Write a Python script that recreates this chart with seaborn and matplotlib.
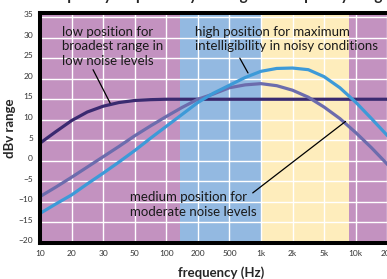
import matplotlib
matplotlib.use("Agg")
import matplotlib.pyplot as plt
import matplotlib.transforms as mtransforms
import seaborn as sns
import pandas as pd

# tick frequencies (evenly spaced on the chart)
freq_labels = ["10", "20", "30", "50", "100", "200", "500", "1k", "2k", "5k", "10k", "20k"]

# curve readings at half-tick steps (0 = 10 Hz, 11 = 20k)
x_steps = [0, 0.5, 1, 1.5, 2, 2.5, 3, 3.5, 4, 4.5, 5, 5.5,
           6, 6.5, 7, 7.5, 8, 8.5, 9, 9.5, 10, 10.5, 11, 11.5]
low_pos = [4.3, 7.1, 9.8, 11.9, 13.3, 14.2, 14.7, 14.9, 15.0, 15.0, 15.0, 15.0,
           15.0, 15.0, 15.0, 15.0, 15.0, 15.0, 15.0, 15.0, 15.0, 15.0, 15.0, 15.0]
medium_pos = [-8.7, -6.4, -4.0, -1.5, 1.0, 3.5, 6.1, 8.5, 10.8, 13.0, 15.0, 16.3,
              17.8, 18.5, 18.8, 18.3, 17.2, 15.5, 13.1, 10.3, 6.9, 3.2, -0.8, -5.0]
high_pos = [-12.8, -10.5, -8.3, -5.6, -3.0, -0.3, 2.5, 5.5, 8.4, 11.3, 14.2, 16.5,
            18.4, 20.3, 21.8, 22.5, 22.6, 22.2, 20.5, 17.8, 14.3, 10.3, 6.2, 2.0]

# background bands (in tick-index units) and their colours
band_edges = [0, 4.43, 7.02, 9.78, 12]
band_colors = ["#C392C0", "#93B9E1", "#FEEDBC", "#C392C0"]

n = len(x_steps)
df = pd.DataFrame({
    "x": x_steps * 3,
    "dBv": low_pos + medium_pos + high_pos,
    "setting": ["low"] * n + ["medium"] * n + ["high"] * n,
})
palette = {"low": "#3A2A70", "medium": "#6C6CAD", "high": "#3D9AD8"}

sns.set_style("white")
plt.rcParams["font.family"] = ["Lato", "DejaVu Sans"]

fig = plt.figure(figsize=(3.87, 2.79), dpi=100)
ax = fig.add_axes([40 / 387, 36 / 279, 363 / 387, 230 / 279])

for i, c in enumerate(band_colors):
    ax.axvspan(band_edges[i], band_edges[i + 1], color=c, lw=0, zorder=0)

ax.set_xticks(range(len(freq_labels)))
ax.set_xticklabels(freq_labels)
ax.set_yticks(range(-20, 36, 5))
ax.grid(True, color="white", lw=1.0)
for gl in ax.get_xgridlines() + ax.get_ygridlines():
    gl.set_zorder(1)

sns.lineplot(data=df, x="x", y="dBv", hue="setting", palette=palette,
             linewidth=2.3, legend=False, ax=ax, zorder=3)

ax.set_xlim(0, 11.5)
ax.set_ylim(-20, 36)
for s in ax.spines.values():
    s.set_linewidth(2.9)
    s.set_color("black")
    s.set_zorder(5)
ax.tick_params(axis="both", length=0, labelsize=6, labelcolor="#333333", pad=5)
shift = mtransforms.ScaledTranslation(0, 2.0 / 72, fig.dpi_scale_trans)
for lab in ax.get_yticklabels():
    lab.set_transform(lab.get_transform() + shift)

ax.set_xlabel("frequency (Hz)", fontsize=9.5, fontweight="bold", labelpad=7)
ax.set_ylabel("dBv range", fontsize=9.5, fontweight="bold", labelpad=2)

tkw = dict(fontsize=9.5, color="#1A1A1A", va="top", ha="left", linespacing=1.25, zorder=6)
ax.text(0.70, 32.9, "low position for\nbroadest range in\nlow noise levels", **tkw)
ax.text(4.9, 32.9, "high position for maximum\nintelligibility in noisy conditions", **tkw)
ax.text(2.85, -7.4, "medium position for\nmoderate noise levels", **tkw)

lkw = dict(color="black", lw=0.9, zorder=6)
ax.plot([1.68, 2.22], [22.2, 14.1], **lkw)
ax.plot([6.33, 6.59], [25.0, 21.4], **lkw)
ax.plot([6.74, 9.68], [-7.8, 9.6], **lkw)

fig.text(0.555, 1 - 0.3 / 279, "Frequency response by setting and frequency range", ha="center",
         va="baseline", fontsize=11, fontweight="bold")

fig.savefig("out.png", dpi=100)
